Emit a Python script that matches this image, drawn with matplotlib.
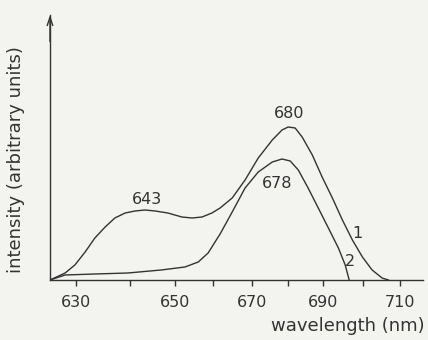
import numpy as np
import matplotlib.pyplot as plt

# curve 1 and curve 2 (wavelength in nm, intensity in arbitrary units)
wl_1 = [625.2, 628.0, 629.8, 631.7, 633.5, 635.4, 637.2, 639.1, 641.1, 643.3, 645.6,
        648.4, 651.8, 654.5, 657.1, 659.7, 661.8, 664.9, 668.2, 671.7, 675.6, 678.3,
        680.0, 682.0, 684.0, 686.9, 689.7, 692.3, 694.8, 697.3, 699.8, 702.4, 705.1, 706.8]
int_1 = [0, 7, 15, 28, 42, 53, 62, 67, 69, 70, 69,
         67, 63, 62, 63, 67, 72, 82, 100, 122, 140, 150,
         153, 152, 143, 125, 103, 82, 60, 40, 23, 10, 2, 0]

wl_2 = [625.2, 628.0, 633.5, 639.6, 646.9, 652.6, 656.1, 658.7, 660.5, 661.8, 664.9,
        668.2, 671.7, 675.6, 678.3, 680.6, 682.9, 685.7, 688.6, 691.3, 693.8, 695.5, 696.5]
int_2 = [0, 5, 6, 7, 10, 13, 18, 27, 38, 46, 68,
         92, 108, 118, 121, 119, 110, 92, 72, 52, 32, 15, 0]

ticks = [630, 640, 650, 660, 670, 680, 690, 700, 710]
tick_labels = ['630', '', '650', '', '670', '', '690', '', '710']

# the printed axis is not evenly spaced: calibrate it from the tick marks
axis_nm = [615, 630, 640, 650, 660, 670, 680, 690, 700, 710, 725]
axis_pos = [-5, 76, 130, 175, 213, 252, 288, 323, 363, 400, 455]


def fwd(x):
    return np.interp(x, axis_nm, axis_pos)


def inv(p):
    return np.interp(p, axis_pos, axis_nm)


ink = '#333333'
paper = '#f3f3ef'

fig = plt.figure(figsize=(4.28, 3.40), dpi=100, facecolor=paper)
ax = fig.add_axes([50 / 428, 60 / 340, 373 / 428, 265 / 340])
ax.set_facecolor(paper)
ax.set_xscale('function', functions=(fwd, inv))

ax.plot(wl_1, int_1, color=ink, lw=1.0, solid_joinstyle='round')
ax.plot(wl_2, int_2, color=ink, lw=1.0, solid_joinstyle='round')

ax.set_xlim(625.2, 716.2)
ax.set_ylim(0, 265)

for side in ['top', 'right']:
    ax.spines[side].set_visible(False)
for side in ['left', 'bottom']:
    ax.spines[side].set_color(ink)
    ax.spines[side].set_linewidth(1.0)
ax.set_yticks([])
ax.set_xticks(ticks)
ax.set_xticklabels(tick_labels)
ax.xaxis.set_minor_locator(plt.NullLocator())
ax.tick_params(axis='x', direction='out', length=4.5, width=1.0, color=ink,
               labelsize=11.5, labelcolor=ink, pad=6)

# arrow head on the intensity axis
ax.annotate('', xy=(0, 1.0), xytext=(0, 0.9), xycoords='axes fraction',
            arrowprops=dict(arrowstyle='->,head_length=0.6,head_width=0.2',
                            color=ink, lw=1.0, shrinkA=0, shrinkB=0))

# peak and curve labels
ax.text(643.8, 73, '643', ha='center', va='bottom', fontsize=11.5, color=ink)
ax.text(680.3, 167, '680', ha='center', va='center', fontsize=11.5, color=ink)
ax.text(677.0, 97, '678', ha='center', va='center', fontsize=11.5, color=ink)
ax.text(698.5, 46, '1', ha='center', va='center', fontsize=11.5, color=ink)
ax.text(696.6, 18, '2', ha='center', va='center', fontsize=11.5, color=ink)

fig.text(16 / 428, 1 - 160 / 340, 'intensity (arbitrary units)', rotation=90,
         ha='center', va='center', fontsize=13, color=ink)
fig.text(425 / 428, 1 - 326 / 340, 'wavelength (nm)', ha='right', va='center',
         fontsize=13, color=ink)

fig.savefig('out.png', dpi=100, facecolor=paper)
